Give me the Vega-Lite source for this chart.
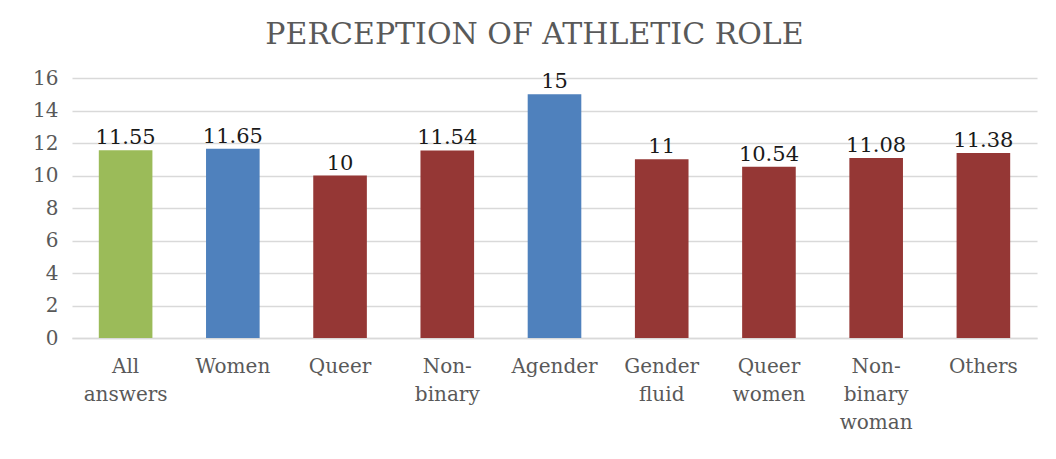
{
  "$schema": "https://vega.github.io/schema/vega-lite/v6.json",
  "autosize": "none",
  "width": 965,
  "height": 260,
  "padding": {"left": 72, "top": 78, "right": 19, "bottom": 121},
  "background": "white",
  "title": {
    "text": "PERCEPTION OF ATHLETIC ROLE",
    "font": "DejaVu Serif",
    "fontSize": 30,
    "fontWeight": "normal",
    "color": "#595959",
    "anchor": "middle",
    "dx": -20,
    "offset": 18
  },
  "data": {
    "values": [
      {"group": "All answers", "score": 11.55, "kind": "all"},
      {"group": "Women", "score": 11.65, "kind": "binary"},
      {"group": "Queer", "score": 10, "kind": "other"},
      {"group": "Non-binary", "score": 11.54, "kind": "other"},
      {"group": "Agender", "score": 15, "kind": "binary"},
      {"group": "Gender fluid", "score": 11, "kind": "other"},
      {"group": "Queer women", "score": 10.54, "kind": "other"},
      {"group": "Non-binary woman", "score": 11.08, "kind": "other"},
      {"group": "Others", "score": 11.38, "kind": "other"}
    ]
  },
  "encoding": {
    "x": {
      "field": "group",
      "type": "nominal",
      "sort": null,
      "scale": {"paddingInner": 0.5, "paddingOuter": 0.25},
      "axis": {
        "title": null,
        "labelAngle": 0,
        "labelFont": "DejaVu Serif",
        "labelFontSize": 20,
        "labelColor": "#595959",
        "labelLineHeight": 28,
        "labelPadding": 18,
        "labelExpr": "split(replace(datum.label, '-', '- '), ' ')",
        "ticks": false,
        "domain": true,
        "domainColor": "#d9d9d9",
        "domainWidth": 1.5,
        "grid": false
      }
    },
    "y": {
      "field": "score",
      "type": "quantitative",
      "scale": {"domain": [0, 16]},
      "axis": {
        "title": null,
        "values": [0, 2, 4, 6, 8, 10, 12, 14, 16],
        "labelFont": "DejaVu Serif",
        "labelFontSize": 20,
        "labelColor": "#595959",
        "labelPadding": 14,
        "ticks": false,
        "domain": false,
        "grid": true,
        "gridColor": "#d9d9d9",
        "gridWidth": 1.5
      }
    }
  },
  "layer": [
    {
      "mark": {"type": "bar"},
      "encoding": {
        "color": {
          "field": "kind",
          "type": "nominal",
          "scale": {"domain": ["all", "binary", "other"], "range": ["#9BBB59", "#4F81BD", "#953735"]},
          "legend": null
        }
      }
    },
    {
      "mark": {"type": "text", "baseline": "alphabetic", "dy": -6, "font": "DejaVu Serif", "fontSize": 21, "color": "#1a1a1a"},
      "encoding": {
        "text": {"field": "score", "type": "quantitative"}
      }
    }
  ],
  "config": {
    "view": {"stroke": null}
  }
}
